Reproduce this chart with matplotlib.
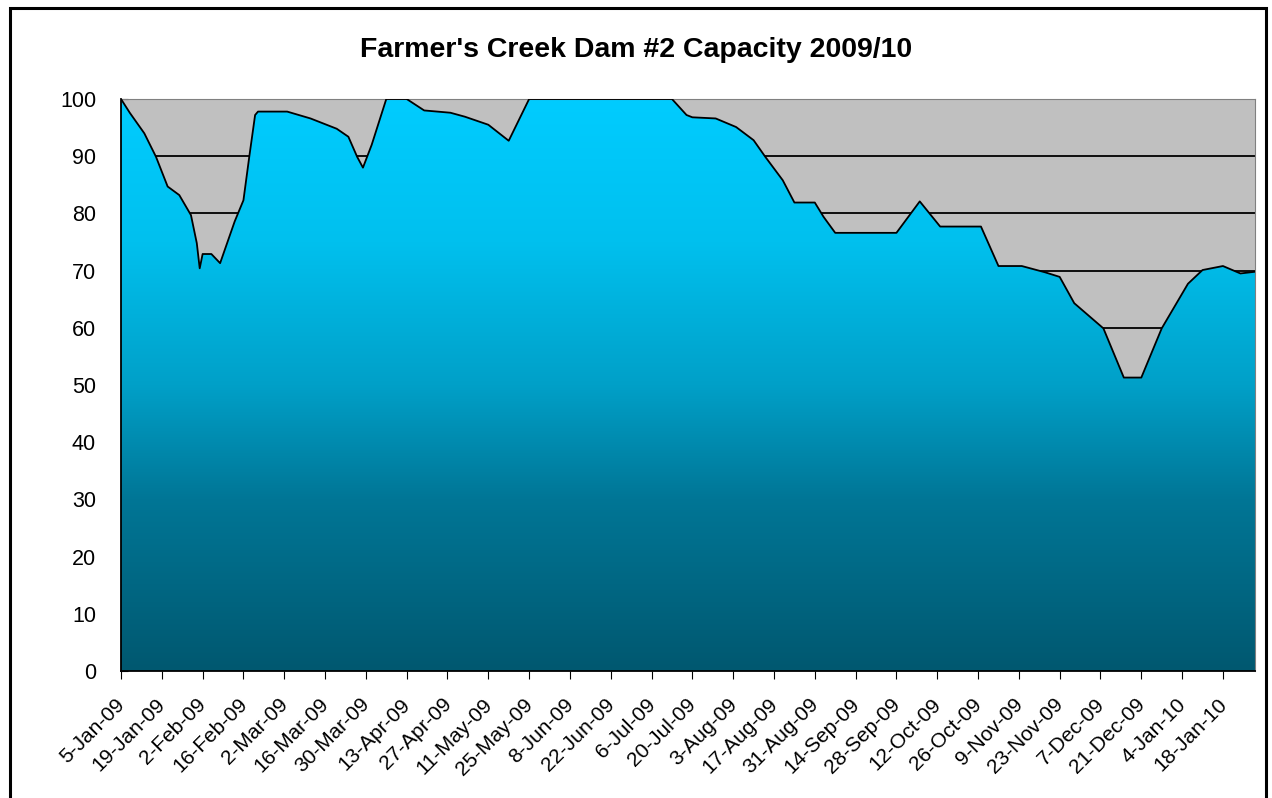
import numpy as np
import pandas as pd
import matplotlib
matplotlib.use("Agg")
import matplotlib.pyplot as plt
import matplotlib.dates as mdates
import matplotlib.transforms as mtransforms
from matplotlib.colors import LinearSegmentedColormap
from matplotlib.patches import Rectangle

plt.rcParams['font.family'] = ['Liberation Sans', 'DejaVu Sans']

# readings of dam capacity (%)
dates = ["2009-01-05", "2009-01-08", "2009-01-13", "2009-01-17", "2009-01-21",
         "2009-01-25", "2009-01-29", "2009-01-31", "2009-02-01", "2009-02-02",
         "2009-02-05", "2009-02-08", "2009-02-13", "2009-02-16", "2009-02-18",
         "2009-02-20", "2009-02-21", "2009-03-03", "2009-03-11", "2009-03-20",
         "2009-03-24", "2009-03-27", "2009-03-29", "2009-04-01", "2009-04-06",
         "2009-04-13", "2009-04-19", "2009-04-28", "2009-05-03", "2009-05-11",
         "2009-05-18", "2009-05-25", "2009-07-13", "2009-07-18", "2009-07-20",
         "2009-07-28", "2009-08-04", "2009-08-10", "2009-08-14", "2009-08-20",
         "2009-08-24", "2009-08-31", "2009-09-03", "2009-09-07", "2009-09-28",
         "2009-10-06", "2009-10-13", "2009-10-27", "2009-11-02", "2009-11-10",
         "2009-11-18", "2009-11-23", "2009-11-28", "2009-12-08", "2009-12-15",
         "2009-12-21", "2009-12-28", "2010-01-06", "2010-01-11", "2010-01-18",
         "2010-01-24", "2010-01-29"]
capacity = [100.0, 97.6, 94.0, 89.9, 84.7,
            83.2, 79.7, 74.8, 70.4, 72.9,
            72.9, 71.3, 78.6, 82.3, 89.9,
            97.2, 97.8, 97.8, 96.6, 94.8,
            93.4, 89.9, 88.0, 92.0, 100.0,
            100.0, 98.0, 97.6, 96.9, 95.5,
            92.7, 100.0, 100.0, 97.2, 96.8,
            96.6, 95.1, 92.8, 89.9, 85.8,
            81.9, 81.9, 79.4, 76.6, 76.6,
            82.1, 77.7, 77.7, 70.8, 70.8,
            69.7, 68.9, 64.3, 59.9, 51.3,
            51.3, 59.9, 67.7, 70.1, 70.8,
            69.5, 69.8]

x = mdates.date2num(pd.to_datetime(dates))
y = np.array(capacity)

fig = plt.figure(figsize=(12.72, 7.98), dpi=100)
ax = fig.add_axes([121/1272, 1 - 671/798, (1255-121)/1272, (671-99)/798])
ax.set_facecolor('#c0c0c0')

# gridlines behind the area
for g in range(10, 100, 10):
    ax.axhline(g, color='black', lw=1.3, zorder=1)

# gradient fill clipped to the area under the curve
poly = ax.fill_between(x, y, 0, color='none', lw=0, zorder=2)
cmap = LinearSegmentedColormap.from_list('dam', [
    (0.0, '#005870'), (0.3, '#007696'), (0.5, '#00a0c8'),
    (0.75, '#00c0ee'), (1.0, '#00ccff')])
grad = np.linspace(0, 1, 256).reshape(-1, 1)
img = ax.imshow(grad, cmap=cmap, origin='lower', aspect='auto',
                extent=[x[0], x[-1], 0, 100], zorder=2, interpolation='bilinear')
img.set_clip_path(poly.get_paths()[0], transform=ax.transData)
ax.plot(x, y, color='black', lw=1.3, zorder=3)

ax.set_xlim(x[0], x[-1])
ax.set_ylim(0, 100)
ax.set_yticks(range(0, 101, 10))
ax.tick_params(axis='y', direction='in', length=5, pad=18, labelsize=15.5)

ticks = pd.date_range("2009-01-05", "2010-01-18", freq="14D")
ax.set_xticks(mdates.date2num(ticks))
ax.set_xticklabels([f"{d.day}-{d:%b-%y}" for d in ticks], rotation=45,
                   ha='right', rotation_mode='anchor', fontsize=15)
ax.tick_params(axis='x', direction='out', length=6, pad=11)
shift = mtransforms.ScaledTranslation(-6/100, 0, fig.dpi_scale_trans)
for lab in ax.get_xticklabels():
    lab.set_transform(lab.get_transform() + shift)

for s in ['top', 'right']:
    ax.spines[s].set_color('#808080')
for s in ['left', 'bottom']:
    ax.spines[s].set_color('black')
    ax.spines[s].set_linewidth(1.3)

fig.text(0.5, 1 - 50/798, "Farmer's Creek Dam #2 Capacity 2009/10",
         ha='center', va='center', fontsize=20.5, fontweight='bold')

# chart frame
fig.patches.append(Rectangle((10/1272, -0.05), (1266-10)/1272, 1.05 - 8/798,
                             transform=fig.transFigure, fill=False,
                             edgecolor='black', lw=2.2))

fig.savefig("out.png", dpi=100)
